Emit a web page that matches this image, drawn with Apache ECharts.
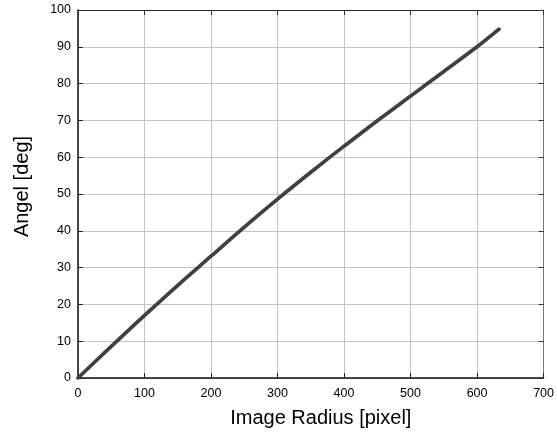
<!DOCTYPE html>
<html>
<head>
<meta charset="utf-8">
<script src="https://cdn.jsdelivr.net/npm/echarts@6/dist/echarts.min.js"></script>
<style>
html,body{margin:0;padding:0;background:#fff;}
#chart{width:557px;height:437px;}
</style>
</head>
<body>
<div id="chart"></div>
<script>
var radiusValues = [0, 50, 100, 150, 200, 250, 300, 350, 400, 450, 500, 550, 600, 633];
var angleValues = [0, 8.6, 17.0, 25.2, 33.1, 41.0, 48.6, 55.9, 63.0, 69.9, 76.6, 83.3, 90.0, 94.8];
var xTitle = 'Image Radius [pixel]';
var yTitle = 'Angel [deg]';

var pts = radiusValues.map(function (r, i) { return [r, angleValues[i]]; });
var font = 'Liberation Sans, Arial, sans-serif';

var chart = echarts.init(document.getElementById('chart'), null, {renderer: 'canvas'});
chart.setOption({
  animation: false,
  backgroundColor: '#fff',
  grid: {left: 78, right: 11, top: 10, bottom: 59, containLabel: false},
  xAxis: [{
    type: 'value', min: 0, max: 700, interval: 100, position: 'bottom',
    name: xTitle, nameLocation: 'middle', nameGap: 30,
    nameTextStyle: {fontFamily: font, fontSize: 20, color: '#000', padding: [0, 0, 0, 20]},
    axisLine: {show: true, onZero: false, lineStyle: {color: '#111', width: 1.5}},
    axisTick: {show: true, inside: true, length: 5, lineStyle: {color: '#222'}},
    axisLabel: {fontFamily: font, fontSize: 12.5, color: '#000', margin: 9},
    splitLine: {show: true, lineStyle: {color: '#c4c4c4', width: 1}}
  }, {
    type: 'value', min: 0, max: 700, interval: 100, position: 'top',
    axisLine: {show: true, onZero: false, lineStyle: {color: '#222', width: 1}},
    axisTick: {show: true, inside: true, length: 5, lineStyle: {color: '#333'}},
    axisLabel: {show: false},
    splitLine: {show: false}
  }],
  yAxis: [{
    type: 'value', min: 0, max: 100, interval: 10, position: 'left',
    name: yTitle, nameLocation: 'middle', nameGap: 46, nameRotate: 90,
    nameTextStyle: {fontFamily: font, fontSize: 20, color: '#000', padding: [0, 0, 0, 15]},
    axisLine: {show: true, onZero: false, lineStyle: {color: '#111', width: 1.5}},
    axisTick: {show: true, inside: true, length: 5, lineStyle: {color: '#222'}},
    axisLabel: {fontFamily: font, fontSize: 12.5, color: '#000', margin: 7},
    splitLine: {show: true, lineStyle: {color: '#c4c4c4', width: 1}}
  }, {
    type: 'value', min: 0, max: 100, interval: 10, position: 'right',
    axisLine: {show: true, onZero: false, lineStyle: {color: '#777', width: 1}},
    axisTick: {show: true, inside: true, length: 5, lineStyle: {color: '#333'}},
    axisLabel: {show: false},
    splitLine: {show: false}
  }],
  series: [{
    type: 'line',
    xAxisIndex: 0, yAxisIndex: 0,
    data: pts,
    smooth: 0.3,
    showSymbol: false,
    lineStyle: {color: '#404040', width: 3.7, cap: 'round'}
  }]
});
</script>
</body>
</html>
